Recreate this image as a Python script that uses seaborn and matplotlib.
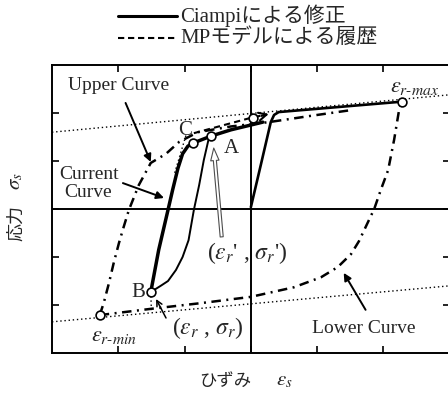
import matplotlib
matplotlib.use("Agg")
import matplotlib.pyplot as plt
from matplotlib.lines import Line2D
import pandas as pd
import seaborn as sns

# Normalised strain / stress coordinates of each branch
upper_x = [-2.28, -2.22, -2.14, -2.07, -1.99, -1.92, -1.84, -1.69, -1.51, -1.28, -1.08, -0.80, -0.30, 0.27, 0.90, 1.51]
upper_y = [-2.21, -1.96, -1.54, -1.13, -0.71, -0.38, -0.02, 0.50, 0.96, 1.15, 1.40, 1.60, 1.72, 1.81, 1.94, 2.06]

lower_x = [-2.28, -1.51, -0.75, 0.00, 0.65, 1.06, 1.31, 1.51, 1.63, 1.76, 1.86, 1.96, 2.07, 2.16, 2.23, 2.28]
lower_y = [-2.21, -2.08, -1.96, -1.83, -1.63, -1.42, -1.21, -0.94, -0.67, -0.29, 0.00, 0.40, 0.81, 1.44, 2.02, 2.23]

current_x = [-1.51, -1.39, -1.25, -1.18, -1.10, -1.03, -0.95, -0.87, -0.60, -0.30, 0.00, 0.18]
current_y = [-1.73, -0.85, -0.02, 0.40, 0.85, 1.15, 1.31, 1.375, 1.52, 1.65, 1.75, 1.81]

reload_x = [0.00, 0.15, 0.30, 0.35, 0.42, 2.22, 2.28]
reload_y = [0.04, 0.92, 1.81, 1.96, 2.02, 2.23, 2.23]

unload_x = [-1.51, -1.36, -1.25, -1.13, -1.03, -0.94, -0.86, -0.78, -0.71, -0.63, -0.60]
unload_y = [-1.73, -1.60, -1.50, -1.27, -1.00, -0.65, -0.02, 0.50, 1.02, 1.50, 1.52]

mp_x = [-0.86, 0.00, 0.24]
mp_y = [1.58, 1.90, 1.97]

asym_x = [-3.0, 3.0]
asym_upper_y = [1.60, 2.38]
asym_lower_y = [-2.35, -1.60]

elastic_x = [-0.98, -1.15]
elastic_y = [1.53, 0.75]
drop_x = [-1.51, -1.50]
drop_y = [-1.73, -2.13]

# Marked points: eps_r-min, eps_r-max, B, C, A, and the point on the stress axis
pts_x = [-2.28, 2.28, -1.51, -0.87, -0.60, 0.03]
pts_y = [-2.21, 2.23, -1.73, 1.375, 1.52, 1.90]

sns.set_theme(style="white")
plt.rcParams["font.family"] = ["Liberation Serif", "Noto Sans CJK JP"]
plt.rcParams["mathtext.fontset"] = "stix"

fig = plt.figure(figsize=(4.48, 3.94), dpi=100)
ax = fig.add_axes([0.116, 0.104, 0.888, 0.731])


def branch(x, y, **kw):
    df = pd.DataFrame({"strain": x, "stress": y})
    sns.lineplot(data=df, x="strain", y="stress", sort=False, estimator=None,
                 ax=ax, color="black", **kw)


dashdot = (0, (3.8, 2.2, 0.8, 2.2))
branch(asym_x, asym_upper_y, lw=1.0, ls=(0, (1, 2)))
branch(asym_x, asym_lower_y, lw=1.0, ls=(0, (1, 2)))
branch(elastic_x, elastic_y, lw=1.0, ls=(0, (1, 2)))
branch(drop_x, drop_y, lw=1.0, ls=(0, (1, 2)))
branch(upper_x, upper_y, lw=1.8, ls=dashdot)
branch(lower_x, lower_y, lw=1.8, ls=dashdot)
branch(mp_x, mp_y, lw=1.5, ls=(0, (3, 2)))
branch(unload_x, unload_y, lw=1.4)
branch(reload_x, reload_y, lw=1.9)
branch(current_x, current_y, lw=2.5)

ax.annotate("", xy=(mp_x[-1] + 0.03, mp_y[-1] + 0.01), xytext=(mp_x[-1] - 0.08, mp_y[-1] - 0.03),
            arrowprops=dict(arrowstyle="->", lw=1.5, color="black", mutation_scale=14,
                            shrinkA=0, shrinkB=0))

sns.scatterplot(x=pts_x, y=pts_y, ax=ax, s=40, facecolor="white", edgecolor="black",
                linewidth=1.2, zorder=6)

ax.axhline(0, color="black", lw=1.4, zorder=1)
ax.axvline(0, color="black", lw=1.4, zorder=1)

ax.set_xlim(-3, 3)
ax.set_ylim(-3, 3)
ax.set_xticks([-2, -1, 0, 1, 2])
ax.set_yticks([-2, -1, 0, 1, 2])
ax.set_xlabel("")
ax.set_ylabel("")
ax.tick_params(direction="in", length=5, width=1.2, color="black", top=True, right=True,
               bottom=True, left=True, labelbottom=False, labelleft=False)
for s in ax.spines.values():
    s.set_color("black")
    s.set_linewidth(1.4)

# Curve labels and pointers
arrow_kw = dict(arrowstyle="-|>", lw=1.4, color="black", mutation_scale=11, shrinkA=0, shrinkB=0)
ax.text(-1.99, 2.58, "Upper Curve", ha="center", va="center", fontsize=14)
ax.annotate("", xy=(-1.51, 0.98), xytext=(-1.89, 2.21), arrowprops=arrow_kw)
ax.text(-2.44, 0.71, "Current", ha="center", va="center", fontsize=14)
ax.text(-2.46, 0.35, "Curve", ha="center", va="center", fontsize=14)
ax.annotate("", xy=(-1.31, 0.23), xytext=(-1.93, 0.54), arrowprops=arrow_kw)
ax.text(1.70, -2.48, "Lower Curve", ha="center", va="center", fontsize=14)
ax.annotate("", xy=(1.40, -1.33), xytext=(1.73, -2.10), arrowprops=arrow_kw)

ax.text(-0.29, 1.27, "A", ha="center", va="center", fontsize=15)
ax.text(-1.70, -1.73, "B", ha="center", va="center", fontsize=15)
ax.text(-1.00, 1.63, "C", ha="center", va="center", fontsize=15)

ax.text(2.10, 2.54, r"$\varepsilon_{r\text{-}max}$", ha="left", va="center", fontsize=16)
ax.text(-2.41, -2.65, r"$\varepsilon_{r\text{-}min}$", ha="left", va="center", fontsize=16)
ax.text(-0.05, -0.92, r"($\varepsilon_r$' , $\sigma_r$')", ha="center", va="center", fontsize=17)
ax.text(-0.65, -2.48, r"($\varepsilon_r$ , $\sigma_r$)", ha="center", va="center", fontsize=17)
ax.annotate("", xy=(-1.43, -1.875), xytext=(-1.28, -2.27),
            arrowprops=dict(arrowstyle="->", lw=1.1, color="black", mutation_scale=10,
                            shrinkA=0, shrinkB=0))
ax.annotate("", xy=(-0.56, 1.27), xytext=(-0.44, -0.58),
            arrowprops=dict(arrowstyle="simple,head_length=0.9,head_width=0.6,tail_width=0.22",
                            fc="white", ec="0.3", lw=0.8, mutation_scale=10,
                            shrinkA=0, shrinkB=0))

# Axis titles: Japanese words and symbols set as separate texts
ax.text(0.435, -0.101, "ひずみ", transform=ax.transAxes, ha="center", va="center",
        fontsize=12.5, clip_on=False)
ax.text(0.583, -0.098, r"$\varepsilon_s$", transform=ax.transAxes, ha="center", va="center",
        fontsize=15, clip_on=False)
ax.text(-0.088, 0.451, "応力", transform=ax.transAxes, ha="center", va="center",
        rotation=90, fontsize=13, clip_on=False)
ax.text(-0.092, 0.597, r"$\sigma_s$", transform=ax.transAxes, ha="center", va="center",
        rotation=90, fontsize=15, clip_on=False)

# Key above the frame
fig.add_artist(Line2D([0.263, 0.395], [0.959, 0.959], lw=2.2, color="black"))
fig.text(0.403, 0.959, "Ciampiによる修正", va="center", ha="left", fontsize=15)
fig.add_artist(Line2D([0.263, 0.395], [0.904, 0.904], lw=1.5, color="black", ls=(0, (3, 1.8))))
fig.text(0.403, 0.904, "MPモデルによる履歴", va="center", ha="left", fontsize=15)

fig.savefig("out.png", dpi=100, facecolor="white")
